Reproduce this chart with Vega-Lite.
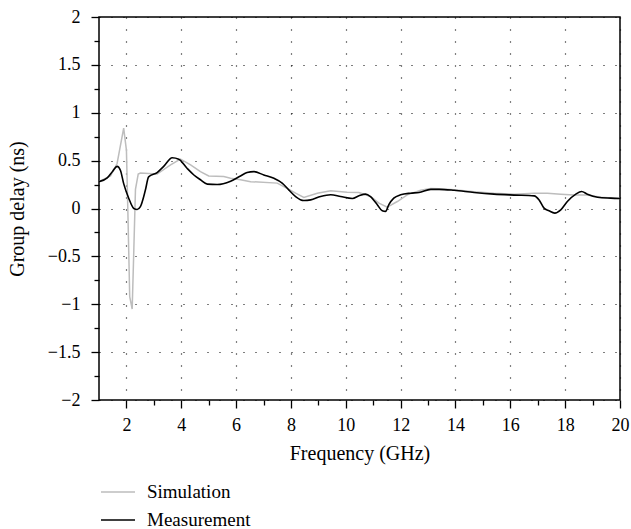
{
  "$schema": "https://vega.github.io/schema/vega-lite/v6.json",
  "width": 521,
  "height": 383,
  "autosize": "none",
  "padding": {"left": 99, "top": 17, "right": 11, "bottom": 129},
  "background": "white",
  "config": {
    "font": "Liberation Serif, DejaVu Serif, serif",
    "view": {"stroke": "black", "strokeWidth": 1.5},
    "axis": {
      "domain": false,
      "tickColor": "black",
      "tickWidth": 1.3,
      "labelColor": "black",
      "labelFontSize": 18,
      "labelFont": "Liberation Serif, DejaVu Serif, serif",
      "titleFont": "Liberation Serif, DejaVu Serif, serif",
      "titleFontSize": 20,
      "titleFontWeight": "normal",
      "titleColor": "black",
      "gridColor": "black",
      "gridDash": [1, 11],
      "gridWidth": 1.2
    },
    "legend": {
      "labelFont": "Liberation Serif, DejaVu Serif, serif",
      "labelFontSize": 19,
      "labelColor": "black"
    }
  },
  "data": {
    "values": [
      {"f": 1.0, "d": 0.28, "s": "Measurement"},
      {"f": 1.3, "d": 0.32, "s": "Measurement"},
      {"f": 1.5, "d": 0.39, "s": "Measurement"},
      {"f": 1.66, "d": 0.44, "s": "Measurement"},
      {"f": 1.78, "d": 0.40, "s": "Measurement"},
      {"f": 1.9, "d": 0.26, "s": "Measurement"},
      {"f": 2.08, "d": 0.11, "s": "Measurement"},
      {"f": 2.27, "d": 0.0, "s": "Measurement"},
      {"f": 2.39, "d": -0.01, "s": "Measurement"},
      {"f": 2.51, "d": 0.02, "s": "Measurement"},
      {"f": 2.69, "d": 0.19, "s": "Measurement"},
      {"f": 2.81, "d": 0.33, "s": "Measurement"},
      {"f": 3.12, "d": 0.375, "s": "Measurement"},
      {"f": 3.36, "d": 0.44, "s": "Measurement"},
      {"f": 3.67, "d": 0.53, "s": "Measurement"},
      {"f": 3.91, "d": 0.515, "s": "Measurement"},
      {"f": 4.21, "d": 0.42, "s": "Measurement"},
      {"f": 4.46, "d": 0.35, "s": "Measurement"},
      {"f": 4.7, "d": 0.30, "s": "Measurement"},
      {"f": 4.95, "d": 0.255, "s": "Measurement"},
      {"f": 5.31, "d": 0.25, "s": "Measurement"},
      {"f": 5.8, "d": 0.285, "s": "Measurement"},
      {"f": 6.16, "d": 0.34, "s": "Measurement"},
      {"f": 6.4, "d": 0.375, "s": "Measurement"},
      {"f": 6.65, "d": 0.385, "s": "Measurement"},
      {"f": 7.01, "d": 0.35, "s": "Measurement"},
      {"f": 7.38, "d": 0.315, "s": "Measurement"},
      {"f": 7.68, "d": 0.265, "s": "Measurement"},
      {"f": 7.92, "d": 0.195, "s": "Measurement"},
      {"f": 8.17, "d": 0.125, "s": "Measurement"},
      {"f": 8.47, "d": 0.083, "s": "Measurement"},
      {"f": 8.72, "d": 0.09, "s": "Measurement"},
      {"f": 9.08, "d": 0.125, "s": "Measurement"},
      {"f": 9.45, "d": 0.143, "s": "Measurement"},
      {"f": 9.81, "d": 0.125, "s": "Measurement"},
      {"f": 10.24, "d": 0.105, "s": "Measurement"},
      {"f": 10.48, "d": 0.132, "s": "Measurement"},
      {"f": 10.72, "d": 0.15, "s": "Measurement"},
      {"f": 10.9, "d": 0.125, "s": "Measurement"},
      {"f": 11.15, "d": 0.04, "s": "Measurement"},
      {"f": 11.33, "d": -0.024, "s": "Measurement"},
      {"f": 11.45, "d": -0.03, "s": "Measurement"},
      {"f": 11.57, "d": 0.04, "s": "Measurement"},
      {"f": 11.75, "d": 0.108, "s": "Measurement"},
      {"f": 12.0, "d": 0.143, "s": "Measurement"},
      {"f": 12.36, "d": 0.16, "s": "Measurement"},
      {"f": 12.67, "d": 0.167, "s": "Measurement"},
      {"f": 13.1, "d": 0.20, "s": "Measurement"},
      {"f": 13.4, "d": 0.2, "s": "Measurement"},
      {"f": 13.95, "d": 0.19, "s": "Measurement"},
      {"f": 14.68, "d": 0.167, "s": "Measurement"},
      {"f": 15.4, "d": 0.15, "s": "Measurement"},
      {"f": 16.14, "d": 0.14, "s": "Measurement"},
      {"f": 16.87, "d": 0.132, "s": "Measurement"},
      {"f": 17.05, "d": 0.09, "s": "Measurement"},
      {"f": 17.23, "d": 0.004, "s": "Measurement"},
      {"f": 17.41, "d": -0.024, "s": "Measurement"},
      {"f": 17.62, "d": -0.048, "s": "Measurement"},
      {"f": 17.84, "d": -0.014, "s": "Measurement"},
      {"f": 18.08, "d": 0.073, "s": "Measurement"},
      {"f": 18.39, "d": 0.15, "s": "Measurement"},
      {"f": 18.6, "d": 0.177, "s": "Measurement"},
      {"f": 18.81, "d": 0.15, "s": "Measurement"},
      {"f": 19.18, "d": 0.118, "s": "Measurement"},
      {"f": 19.66, "d": 0.108, "s": "Measurement"},
      {"f": 20.0, "d": 0.104, "s": "Measurement"},
      {"f": 1.0, "d": 0.28, "s": "Simulation"},
      {"f": 1.42, "d": 0.34, "s": "Simulation"},
      {"f": 1.66, "d": 0.47, "s": "Simulation"},
      {"f": 1.9, "d": 0.84, "s": "Simulation"},
      {"f": 2.0, "d": 0.61, "s": "Simulation"},
      {"f": 2.06, "d": -0.12, "s": "Simulation"},
      {"f": 2.12, "d": -0.92, "s": "Simulation"},
      {"f": 2.21, "d": -1.05, "s": "Simulation"},
      {"f": 2.27, "d": -0.43, "s": "Simulation"},
      {"f": 2.33, "d": 0.2, "s": "Simulation"},
      {"f": 2.43, "d": 0.36, "s": "Simulation"},
      {"f": 2.51, "d": 0.37, "s": "Simulation"},
      {"f": 3.12, "d": 0.36, "s": "Simulation"},
      {"f": 3.61, "d": 0.455, "s": "Simulation"},
      {"f": 3.97, "d": 0.515, "s": "Simulation"},
      {"f": 4.34, "d": 0.455, "s": "Simulation"},
      {"f": 4.7, "d": 0.385, "s": "Simulation"},
      {"f": 5.0, "d": 0.34, "s": "Simulation"},
      {"f": 5.55, "d": 0.333, "s": "Simulation"},
      {"f": 5.8, "d": 0.315, "s": "Simulation"},
      {"f": 6.16, "d": 0.30, "s": "Simulation"},
      {"f": 6.53, "d": 0.28, "s": "Simulation"},
      {"f": 7.5, "d": 0.265, "s": "Simulation"},
      {"f": 7.86, "d": 0.21, "s": "Simulation"},
      {"f": 8.17, "d": 0.16, "s": "Simulation"},
      {"f": 8.47, "d": 0.115, "s": "Simulation"},
      {"f": 8.96, "d": 0.16, "s": "Simulation"},
      {"f": 9.45, "d": 0.185, "s": "Simulation"},
      {"f": 10.05, "d": 0.17, "s": "Simulation"},
      {"f": 10.48, "d": 0.167, "s": "Simulation"},
      {"f": 10.9, "d": 0.125, "s": "Simulation"},
      {"f": 11.21, "d": 0.056, "s": "Simulation"},
      {"f": 11.51, "d": 0.015, "s": "Simulation"},
      {"f": 11.88, "d": 0.073, "s": "Simulation"},
      {"f": 12.24, "d": 0.143, "s": "Simulation"},
      {"f": 12.73, "d": 0.19, "s": "Simulation"},
      {"f": 13.1, "d": 0.21, "s": "Simulation"},
      {"f": 13.4, "d": 0.205, "s": "Simulation"},
      {"f": 13.95, "d": 0.195, "s": "Simulation"},
      {"f": 14.68, "d": 0.175, "s": "Simulation"},
      {"f": 15.4, "d": 0.16, "s": "Simulation"},
      {"f": 16.14, "d": 0.15, "s": "Simulation"},
      {"f": 16.87, "d": 0.16, "s": "Simulation"},
      {"f": 17.35, "d": 0.16, "s": "Simulation"},
      {"f": 17.84, "d": 0.15, "s": "Simulation"},
      {"f": 18.32, "d": 0.14, "s": "Simulation"},
      {"f": 18.81, "d": 0.14, "s": "Simulation"},
      {"f": 19.3, "d": 0.118, "s": "Simulation"},
      {"f": 20.0, "d": 0.104, "s": "Simulation"}
    ]
  },
  "layer": [
    {
      "transform": [{"filter": "datum.s === 'Simulation'"}],
      "mark": {"type": "line", "strokeWidth": 1.5, "clip": true},
      "encoding": {
        "x": {
          "field": "f", "type": "quantitative",
          "scale": {"domain": [1, 20], "nice": false, "zero": false},
          "axis": {
            "orient": "bottom",
            "title": "Frequency (GHz)",
            "values": [2, 4, 6, 8, 10, 12, 14, 16, 18, 20],
            "tickSize": 8,
            "labelPadding": 8,
            "titlePadding": 9,
            "grid": true,
            "labelFlush": false
          }
        },
        "y": {
          "field": "d", "type": "quantitative",
          "scale": {"domain": [-2, 2], "nice": false, "zero": false},
          "axis": {
            "orient": "left",
            "title": "Group delay (ns)",
            "values": [-2, -1.5, -1, -0.5, 0, 0.5, 1, 1.5, 2],
            "labelExpr": "replace(format(datum.value, '~g'), '-', '−')",
            "tickSize": 8,
            "labelPadding": 11,
            "titlePadding": 20,
            "grid": true,
            "labelFlush": false
          }
        },
        "color": {
          "field": "s", "type": "nominal",
          "scale": {"domain": ["Simulation", "Measurement"], "range": ["#bdbdbd", "#000000"]},
          "legend": {
            "title": null,
            "orient": "none",
            "legendX": 1,
            "legendY": 457,
            "direction": "vertical",
            "symbolType": "stroke",
            "symbolSize": 1156,
            "symbolStrokeWidth": 1.5,
            "labelOffset": 11,
            "rowPadding": 0,
            "padding": 0
          }
        }
      }
    },
    {
      "transform": [{"filter": "datum.s === 'Measurement'"}],
      "mark": {"type": "line", "strokeWidth": 1.6, "interpolate": "monotone", "clip": true},
      "encoding": {
        "x": {
          "field": "f", "type": "quantitative",
          "axis": {
            "orient": "bottom",
            "title": null,
            "values": [3, 5, 7, 9, 11, 13, 15, 17, 19],
            "labels": false,
            "tickSize": 5,
            "grid": false
          }
        },
        "y": {
          "field": "d", "type": "quantitative",
          "axis": {
            "orient": "left",
            "title": null,
            "values": [-1.75, -1.25, -0.75, -0.25, 0.25, 0.75, 1.25, 1.75],
            "labels": false,
            "tickSize": 5,
            "grid": false
          }
        },
        "color": {"field": "s", "type": "nominal"}
      }
    }
  ],
  "resolve": {"axis": {"x": "independent", "y": "independent"}}
}
